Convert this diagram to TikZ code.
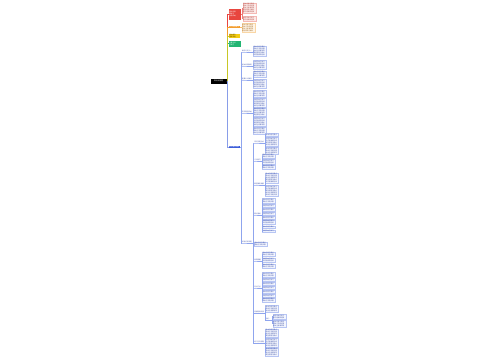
\documentclass[tikz,border=0pt]{standalone}
\usepackage{fontspec}
\newfontfamily\cjk{Noto Sans CJK SC}
\XeTeXlinebreaklocale "zh"
\XeTeXlinebreakskip=0pt plus 1pt
\newcommand\tf{\cjk\fontsize{1.6}{2}\selectfont}
\newcommand\tg{\cjk\fontsize{1.8}{2.2}\selectfont}
\definecolor{redc}{HTML}{E8463F}
\definecolor{redlb}{HTML}{F4B8B4}
\definecolor{redlf}{HTML}{FCE9E7}
\definecolor{redlt}{HTML}{B0504A}
\definecolor{orangec}{HTML}{F39C2B}
\definecolor{orlb}{HTML}{F9D6A5}
\definecolor{orlf}{HTML}{FEF4E6}
\definecolor{orlt}{HTML}{A8712E}
\definecolor{yellowc}{HTML}{F2CB14}
\definecolor{yellowt}{HTML}{6B5500}
\definecolor{greenc}{HTML}{22B573}
\definecolor{bluec}{HTML}{3A5BD9}
\definecolor{edgeb}{HTML}{8FA5EE}
\definecolor{leafb}{HTML}{B7C5F3}
\definecolor{leaff}{HTML}{F2F5FE}
\definecolor{leaft}{HTML}{4A5CAA}
\def\phA{基本内容与要点}
\def\phB{具体方法和步骤}
\def\phC{相关注意事项等}
\def\phD{典型例题与解析}
\def\phE{知识拓展和延伸}
\def\phF{总结归纳与复习}
\newcommand\T[1]{\ifcase#1\or\phA\or\phA\\\phB\or\phA\\\phB\\\phC\or\phA\\\phB\\\phC\\\phD\or\phA\\\phB\\\phC\\\phD\\\phE\fi}
\newcommand\V[1]{\ifcase#1\or\phF\or\phF\\\phE\or\phF\\\phE\\\phD\or\phF\\\phE\\\phD\\\phC\or\phF\\\phE\\\phD\\\phC\\\phB\fi}
\tikzset{
 root/.style={fill=black, text=white, font=\tg, minimum width=16pt, minimum height=5pt, inner sep=0.5pt},
 lone/.style={anchor=west, text=white, font=\tf, inner sep=0.6pt, align=left, text width=#1},
 lone/.default=10pt,
 leaf/.style={anchor=west, draw=leafb, fill=leaff, text=leaft, line width=0.25pt, font=\tf, inner sep=0.5pt, align=left, text width=#1},
 leaf/.default=12pt,
 redleaf/.style={leaf, draw=redlb, fill=redlf, text=redlt},
 orleaf/.style={leaf, draw=orlb, fill=orlf, text=orlt},
 lab/.style={anchor=south west, text=leaft, font=\tf, inner sep=0.3pt},
 be/.style={draw=edgeb, line width=0.35pt},
 te/.style={line width=0.45pt},
}
\newcommand\lk[2]{\draw[be] (#1) -- ++(1,0) |- (#2.south west) -- (#2.south east);}
\newcommand\lf[2]{\draw[be] (#1) -- ++(1,0) |- (#2.west);}
\begin{document}
\begin{tikzpicture}[x=1pt,y=-1pt]
\useasboundingbox (0,0) rectangle (500,360);
\fill[white] (0,0) rectangle (500,360);
% root and first level
\node[root] (root) at (218.5,81) {知识点梳理};
\node[lone=11pt, fill=redc, minimum height=11pt] (r1) at (228.5,14) {重点内容\\概述与\\总结归纳};
\node[lone=10pt, fill=orangec] (o1) at (228.5,27) {学习目标要求};
\node[lone=10pt, fill=yellowc, text=yellowt] (y1) at (228.5,36) {基本概念\\理解掌握};
\node[lone=11pt, fill=greenc, minimum height=6pt] (g1) at (228.5,43.5) {主要方法\\与技巧};
\node[lone=10pt, fill=bluec] (b1) at (228.5,147) {知识要点详解};
\draw[te, redc] (root.east) -- ++(1,0) |- (r1.west);
\draw[te, orangec] (root.east) -- ++(1,0) |- (o1.west);
\draw[te, greenc] (root.east) -- ++(1,0) |- (g1.west);
\draw[te, yellowc!80!greenc] (root.east) -- ++(1,0) |- (y1.west);
\draw[te, bluec!60] (root.east) -- ++(1,0) |- (b1.west);
% red and orange children
\node[redleaf] (rc1) at (242.5,8) {\T{5}};
\node[redleaf] (rc2) at (242.5,18.5) {\V{2}};
\draw[redc!70, line width=0.35pt] (r1.east) -- ++(1,0) |- (rc1.west);
\draw[redc!70, line width=0.35pt] (r1.east) -- ++(1,0) |- (rc2.west);
\node[orleaf] (oc1) at (241.5,27.5) {\T{4}};
\draw[orangec!70, line width=0.35pt] (o1.east) -- ++(1,0) |- (oc1.west);
% second level under blue
\node[lab] (A) at (241.7,52) {概念与定义一};
\node[lab] (B) at (241.7,66) {基本原理说明};
\node[lab] (C) at (241.7,80) {重要公式推导};
\node[lab] (D) at (241.7,113) {常见题型归纳};
\node[lab] (E) at (241.7,243) {综合应用专题};
\lk{b1.east}{A}\lk{b1.east}{B}\lk{b1.east}{C}\lk{b1.east}{D}\lk{b1.east}{E}
\node[leaf] (A1) at (252.9,51) {\T{5}};
\node[leaf] (B1) at (252.9,64.5) {\V{4}};
\node[leaf] (C1) at (252.9,74) {\T{3}};
\node[leaf] (C2) at (252.9,83.5) {\V{4}};
\node[leaf] (D1) at (252.9,93.5) {\T{3}};
\node[leaf] (D2) at (252.9,102.5) {\V{4}};
\node[leaf] (D3) at (252.9,112) {\T{4}};
\node[leaf] (D4) at (252.9,121.5) {\V{4}};
\node[leaf] (D5) at (252.9,130.5) {\T{3}};
\lf{A.south east}{A1}\lf{B.south east}{B1}
\lf{C.south east}{C1}\lf{C.south east}{C2}
\lf{D.south east}{D1}\lf{D.south east}{D2}\lf{D.south east}{D3}\lf{D.south east}{D4}\lf{D.south east}{D5}
% third level under E
\node[lab] (E1) at (253.9,143) {常见问题分析};
\node[lab] (E2) at (253.9,161) {方法技巧};
\node[lab] (E3) at (253.9,185) {典型案例讲解};
\node[lab] (E4) at (253.9,215) {要点清单};
\node[leaf] (E5) at (253.9,244) {\T{2}};
\node[lab] (E6) at (253.9,261) {易错提醒};
\node[lab] (E7) at (253.9,288) {考点汇总};
\node[lab] (E8) at (253.9,313) {拓展延伸阅读};
\node[lab] (E9) at (253.9,343) {练习与巩固题};
\lk{E.south east}{E1}\lk{E.south east}{E2}\lk{E.south east}{E3}\lk{E.south east}{E4}
\lf{E.south east}{E5}
\lk{E.south east}{E6}\lk{E.south east}{E7}\lk{E.south east}{E8}\lk{E.south east}{E9}
% E1
\node[leaf] (E1a) at (265.1,134.5) {\T{1}};
\node[leaf] (E1b) at (265.1,141.5) {\V{4}};
\node[leaf] (E1c) at (265.1,150.5) {\T{3}};
\lf{E1.south east}{E1a}\lf{E1.south east}{E1b}\lf{E1.south east}{E1c}
% E2
\node[leaf] (E2a) at (261.9,156) {\T{2}};
\node[leaf] (E2b) at (261.9,161.5) {\V{2}};
\node[leaf] (E2c) at (261.9,167) {\T{2}};
\lf{E2.south east}{E2a}\lf{E2.south east}{E2b}\lf{E2.south east}{E2c}
% E3
\node[leaf] (E3a) at (265.1,178) {\T{5}};
\node[leaf] (E3b) at (265.1,190.5) {\V{5}};
\lf{E3.south east}{E3a}\lf{E3.south east}{E3b}
% E4
\node[leaf] (E4a) at (261.9,200.5) {\T{2}};
\node[leaf] (E4b) at (261.9,205.5) {\V{1}};
\node[leaf] (E4c) at (261.9,209.5) {\T{1}};
\node[leaf] (E4d) at (261.9,213.5) {\V{1}};
\node[leaf] (E4e) at (261.9,217.5) {\T{1}};
\node[leaf] (E4f) at (261.9,222) {\V{2}};
\node[leaf] (E4g) at (261.9,227) {\T{1}};
\node[leaf] (E4h) at (261.9,231) {\V{1}};
\foreach \n in {E4a,E4b,E4c,E4d,E4e,E4f,E4g,E4h}{\lf{E4.south east}{\n}}
% E6
\node[leaf] (E6a) at (261.9,254) {\T{2}};
\node[leaf] (E6b) at (261.9,260) {\V{2}};
\node[leaf] (E6c) at (261.9,266) {\T{2}};
\lf{E6.south east}{E6a}\lf{E6.south east}{E6b}\lf{E6.south east}{E6c}
% E7
\node[leaf] (E7a) at (261.9,274.5) {\T{2}};
\node[leaf] (E7b) at (261.9,279.5) {\V{1}};
\node[leaf] (E7c) at (261.9,283.5) {\T{1}};
\node[leaf] (E7d) at (261.9,287.5) {\V{1}};
\node[leaf] (E7e) at (261.9,291.5) {\T{1}};
\node[leaf] (E7f) at (261.9,295.5) {\V{1}};
\node[leaf] (E7g) at (261.9,300) {\T{2}};
\foreach \n in {E7a,E7b,E7c,E7d,E7e,E7f,E7g}{\lf{E7.south east}{\n}}
% E8
\node[leaf] (E8a) at (265.1,308.5) {\T{3}};
\node[lab] (E8s) at (265.1,320.5) {总结：};
\lf{E8.south east}{E8a}\lk{E8.south east}{E8s}
\node[leaf] (E8s1) at (272.5,316.5) {\V{2}};
\node[leaf] (E8s2) at (272.5,323.5) {\T{3}};
\lf{E8s.south east}{E8s1}\lf{E8s.south east}{E8s2}
% E9
\node[leaf] (E9a) at (265.1,333) {\T{4}};
\node[leaf] (E9b) at (265.1,342.6) {\V{4}};
\node[leaf] (E9c) at (265.1,352.2) {\T{4}};
\lf{E9.south east}{E9a}\lf{E9.south east}{E9b}\lf{E9.south east}{E9c}
\end{tikzpicture}
\end{document}
